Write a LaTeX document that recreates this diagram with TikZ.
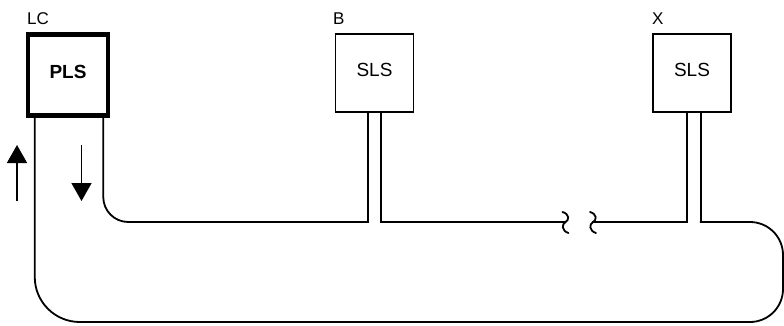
\documentclass[tikz,border=0pt]{standalone}
\usepackage{fontspec}
\setmainfont{Liberation Sans}
\usetikzlibrary{arrows.meta}
\begin{document}
\begin{tikzpicture}[x=1pt,y=-1pt,
  wire/.style={line width=1.8pt,line cap=rect},
  boxs/.style={draw,line width=1.8pt,minimum width=78pt,minimum height=78pt,inner sep=0pt,text depth=6pt,font=\fontsize{19}{19}\selectfont},
  lbl/.style={anchor=base west,inner sep=0pt,font=\fontsize{17}{17}\selectfont},
  flow/.style={line width=1.6pt,-{Triangle[width=20pt,length=18pt]}}]
\useasboundingbox (0,0) rectangle (784,326);
% boxes
\node[boxs,line width=4.5pt,minimum width=80pt,minimum height=81pt,text depth=7pt,font=\fontsize{19}{19}\selectfont\bfseries] (pls) at (68,75) {PLS};
\node[boxs] (b) at (374.5,73) {SLS};
\node[boxs] (x) at (692,73) {SLS};
% labels
\node[lbl] (lc) at (27,25) {LC};
\node[lbl] (lb) at (333,25) {B};
\node[lbl] (lx) at (652,25) {X};
% wire coordinates
\coordinate (hy) at (0,222);
\coordinate (ly) at (0,322);
\coordinate (rx) at (783,0);
\coordinate (p1) at ([xshift=9pt]pls.south west);
\coordinate (p2) at ([xshift=-7pt]pls.south east);
\coordinate (b1) at ([xshift=-6.7pt]b.south);
\coordinate (b2) at ([xshift=6.7pt]b.south);
\coordinate (x1) at ([xshift=-5pt]x.south);
\coordinate (x2) at ([xshift=8.7pt]x.south);
\coordinate (k1) at (565.5,222);
\coordinate (k2) at (593,222);
\coordinate (mid) at (400,322);
% inner wire
\draw[wire,rounded corners=25pt] (p2) -- (p2 |- hy) -- (b1 |- hy);
\draw[wire] (b1 |- hy) -- (b1);
\draw[wire] (b2) -- (b2 |- hy) -- (k1);
% break marks
\draw[wire,line cap=round] ([shift={(-3,-10)}]k1) .. controls ([shift={(4,-8)}]k1) and ([shift={(4,-2)}]k1) .. (k1)
   .. controls ([shift={(-4,2)}]k1) and ([shift={(-4,9)}]k1) .. ([shift={(3,11)}]k1);
\draw[wire,line cap=round] ([shift={(-3,-10)}]k2) .. controls ([shift={(4,-8)}]k2) and ([shift={(4,-2)}]k2) .. (k2)
   .. controls ([shift={(-4,2)}]k2) and ([shift={(-4,9)}]k2) .. ([shift={(3,11)}]k2);
\draw[wire] (k2) -- (x1 |- hy) -- (x1);
% outer loop
\draw[wire] (x2) -- (x2 |- hy);
\draw[wire,rounded corners=33pt] (x2 |- hy) -- (rx |- hy) -- (rx |- ly) -- (mid);
\draw[wire,rounded corners=45pt] (mid) -- (p1 |- ly) -- (p1);
% direction arrows
\coordinate (ua1) at (17,201);
\coordinate (ua2) at (17,145);
\coordinate (da1) at (81.5,145);
\coordinate (da2) at (81.5,201);
\draw[flow] (ua1) -- (ua2);
\draw[flow] (da1) -- (da2);
\end{tikzpicture}
\end{document}
